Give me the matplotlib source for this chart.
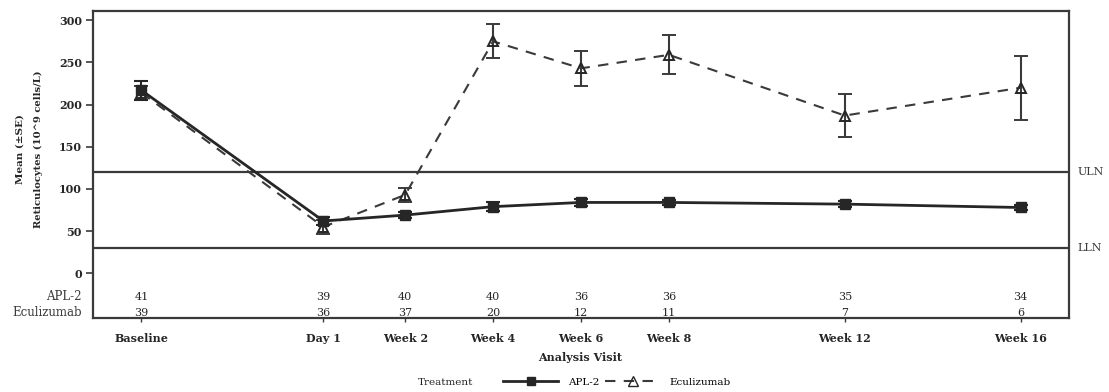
import matplotlib.pyplot as plt
from matplotlib.lines import Line2D

plt.rcParams['font.family'] = ['DejaVu Serif']

# visits and their position on the week axis
visits = ["Baseline", "Day 1", "Week 2", "Week 4", "Week 6", "Week 8", "Week 12", "Week 16"]
visit_week = [-4, 0.14, 2, 4, 6, 8, 12, 16]

# mean reticulocytes and SE
apl2_mean = [217, 62, 69, 79, 84, 84, 82, 78]
apl2_se = [11, 5, 4, 5, 4, 3, 4, 3]
ecu_mean = [214, 55, 93, 275, 243, 259, 187, 220]
ecu_se = [8, 8, 8, 20, 21, 23, 25, 38]

# patients at each visit
apl2_n = [41, 39, 40, 40, 36, 36, 35, 34]
ecu_n = [39, 36, 37, 20, 12, 11, 7, 6]

uln = 120
lln = 30

dark = "#262626"
gray = "#3a3a3a"

fig = plt.figure(figsize=(11.09, 3.92), dpi=100)
ax = fig.add_axes([0.0839, 0.1888, 0.8800, 0.7832])

# reference lines
ax.axhline(uln, color=gray, lw=1.6, zorder=1)
ax.axhline(lln, color=gray, lw=1.6, zorder=1)

ax.errorbar(visit_week, ecu_mean, yerr=ecu_se, color=gray, ls=(0, (5, 4)), lw=1.5,
            marker="^", ms=7.5, mfc="none", mec=dark, mew=1.4,
            ecolor=gray, elinewidth=1.5, capsize=5, capthick=1.5, zorder=3)
ax.errorbar(visit_week, apl2_mean, yerr=apl2_se, color=dark, ls="-", lw=2,
            marker="s", ms=7, mfc=dark, mec=dark,
            ecolor=dark, elinewidth=1.5, capsize=5, capthick=1.5, zorder=4)

ax.set_xlim(-5.1, 17.1)
ax.set_ylim(-53, 311)
ax.set_yticks([0, 50, 100, 150, 200, 250, 300])
ax.set_xticks(visit_week)
ax.set_xticklabels(visits, fontweight="bold", fontsize=8, color=dark)
for lab in ax.get_yticklabels():
    lab.set_fontweight("bold")
    lab.set_fontsize(8)
    lab.set_color(dark)
ax.tick_params(axis="y", length=5, width=1.2, color=gray, pad=3)
ax.tick_params(axis="x", length=3, width=1, color=gray, pad=8)
for s in ax.spines.values():
    s.set_color(gray)
    s.set_linewidth(1.6)

# counts table inside the axes
for x, a, e in zip(visit_week, apl2_n, ecu_n):
    ax.text(x, -28, str(a), ha="center", va="center", fontsize=8, color=dark)
    ax.text(x, -47, str(e), ha="center", va="center", fontsize=8, color=dark)
ax.text(-5.35, -28, "APL-2", ha="right", va="center", fontsize=8.5, color=gray)
ax.text(-5.35, -47, "Eculizumab", ha="right", va="center", fontsize=8.5, color=gray)

ax.text(17.3, uln, "ULN", ha="left", va="center", fontsize=8, color=gray)
ax.text(17.3, lln, "LLN", ha="left", va="center", fontsize=8, color=gray)

fig.text(0.0185, 0.62, "Mean (±SE)", rotation=90, ha="center", va="center",
         fontsize=7.5, fontweight="bold", color=dark)
fig.text(0.0345, 0.62, "Reticulocytes (10^9 cells/L)", rotation=90, ha="center", va="center",
         fontsize=7.2, fontweight="bold", color=dark)

fig.text(0.523, 0.088, "Analysis Visit", ha="center", va="center",
         fontsize=8, fontweight="bold", color=dark)

# legend
fig.text(0.377, 0.025, "Treatment", ha="left", va="center", fontsize=7.5, color=dark)
handles = [
    Line2D([], [], color=dark, lw=2, marker="s", ms=6, mfc=dark),
    Line2D([], [], color=gray, lw=1.5, ls=(0, (5, 4)), marker="^", ms=7, mfc="none", mec=dark),
]
fig.legend(handles, ["APL-2", "Eculizumab"], loc="center left", bbox_to_anchor=(0.449, 0.025),
           ncol=2, frameon=False, fontsize=7.5, handlelength=5.3, columnspacing=0.6,
           handletextpad=0.9, borderpad=0)

fig.savefig("out.png", dpi=100)
